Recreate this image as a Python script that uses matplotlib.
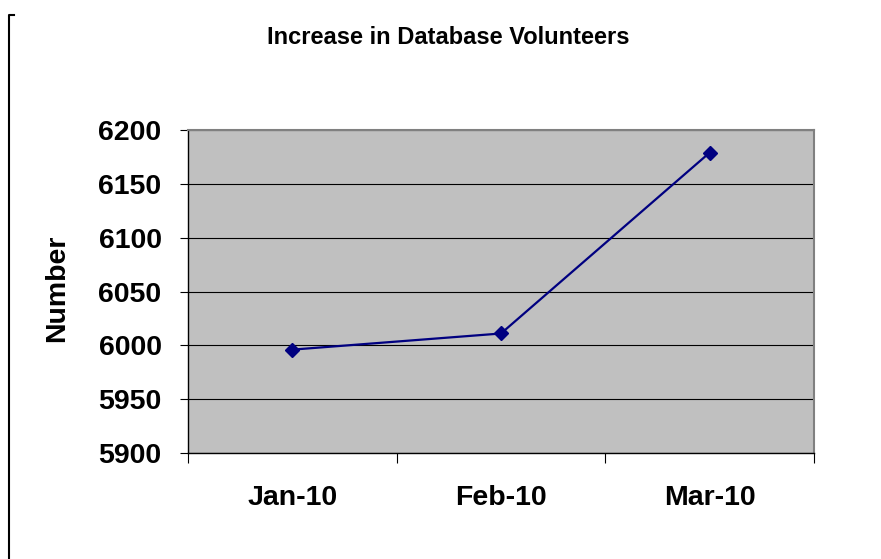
import matplotlib.pyplot as plt
from matplotlib.lines import Line2D

# monthly volunteer counts
months = ["Jan-10", "Feb-10", "Mar-10"]
volunteers = [5996, 6011, 6179]
y_ticks = [5900, 5950, 6000, 6050, 6100, 6150, 6200]

plt.rcParams['font.family'] = ['Liberation Sans', 'DejaVu Sans']

fig = plt.figure(figsize=(8.81, 5.59), dpi=100)
ax = fig.add_axes([188/881, 1-453/559, (814-188)/881, (453-130)/559])
ax.set_facecolor('#c0c0c0')

x = list(range(len(months)))
ax.plot(x, volunteers, color='#000080', lw=1.6, marker='D', ms=7,
        mfc='#000080', mec='#000080', zorder=3)

ax.set_xlim(-0.5, len(months) - 0.5)
ax.set_ylim(5900, 6200)
ax.set_yticks(y_ticks)
ax.set_yticklabels([str(v) for v in y_ticks], fontsize=20.5, fontweight='bold')
ax.yaxis.grid(True, color='#000000', lw=0.8)
ax.set_axisbelow(True)

# category labels between boundary ticks
ax.set_xticks(x)
ax.set_xticklabels(months, fontsize=20.5, fontweight='bold')
ax.tick_params(axis='x', which='major', length=0, pad=23)
ax.set_xticks([i - 0.5 for i in range(len(months) + 1)], minor=True)
ax.tick_params(axis='x', which='minor', length=7, width=0.8, direction='out')
ax.tick_params(axis='y', length=6, width=0.8, direction='out', pad=13)

for s in ['top', 'right']:
    ax.spines[s].set_color('#808080')
    ax.spines[s].set_linewidth(1.5)
for s in ['left', 'bottom']:
    ax.spines[s].set_color('black')
    ax.spines[s].set_linewidth(1.0)

fig.text(448/881, 1-38/559, "Increase in Database Volunteers", ha='center', va='center',
         fontsize=17, fontweight='bold')
fig.text(57/881, 1-288/559, "Number", ha='center', va='center', rotation=90,
         fontsize=20.5, fontweight='bold')

# partial outer frame on the left edge
fig.add_artist(Line2D([9/881, 9/881, 14/881], [0, 1-15/559, 1-15/559],
                      transform=fig.transFigure, color='black', lw=1.5))

fig.savefig('out.png', dpi=100)
